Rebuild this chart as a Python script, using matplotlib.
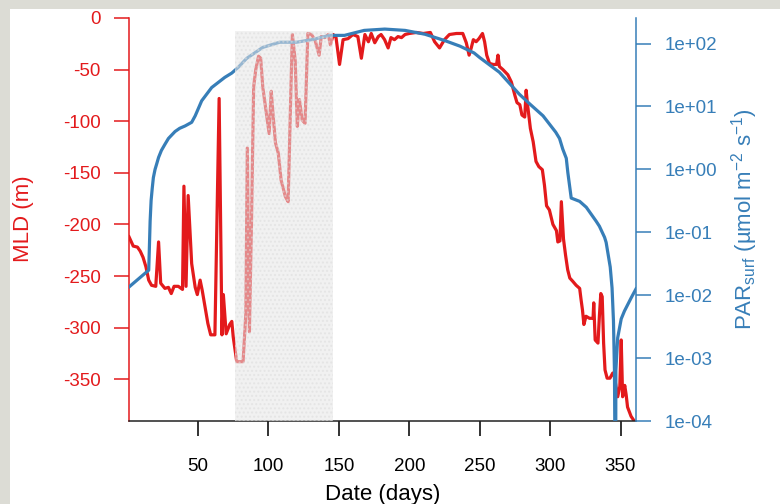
import numpy as np
import matplotlib
matplotlib.use('Agg')
import matplotlib.pyplot as plt
from matplotlib.patches import Rectangle

plt.rcParams['font.family'] = ['Liberation Sans', 'DejaVu Sans']
plt.rcParams['mathtext.fontset'] = 'custom'
plt.rcParams['mathtext.rm'] = 'Liberation Sans'
plt.rcParams['mathtext.it'] = 'Liberation Sans:italic'

RED = '#E31A1C'
BLUE = '#377EB8'

# mixed layer depth (m)
mld_day = [1, 4, 7, 9, 11, 13, 15, 17, 20, 22, 23.5, 26.5, 29, 31, 33, 36, 39, 40, 41.5, 43,
           45.5, 48, 49.5, 51.5, 53, 55, 57, 59, 62, 65, 67, 68, 70, 72.5, 74, 75, 77.5, 82, 84, 85,
           86.5, 88, 89.5, 91, 93, 94.5, 96, 98.5, 100.5, 102, 103, 105, 107, 109, 112, 114, 116, 117,
           119, 120.5, 122, 124, 126, 128, 130.5, 133, 136, 137.5, 140, 142.5, 144, 146, 148, 150.5,
           153, 156.5, 160, 163.5, 166, 168.5, 171, 173, 175.5, 178, 180, 182.5, 185, 187, 189.5, 192,
           194.5, 197, 200, 205, 210, 215, 218, 221.5, 225, 228.5, 233.5, 238, 240.5, 242.5, 244,
           245.5, 247.5, 249.5, 252, 253.5, 255, 257, 259.5, 262, 263, 264, 266.5, 270, 272.5, 275,
           276.5, 278.5, 280, 282, 283, 284, 286, 288, 290, 292, 294.5, 296, 297.5, 299.5, 302, 304.5,
           305.5, 307, 308, 309.5, 311, 312.5, 314, 316, 318.5, 321, 322, 323, 324, 325.5, 328, 330.5,
           331, 332, 334, 335, 336, 337, 338, 339, 340.5, 342.5, 344.5, 345.5, 348, 349.5, 350.5,
           351.5, 353, 354, 355, 357.5, 359.5, 360]
mld = [-212, -221, -222, -226, -232, -241, -254, -259, -260, -217, -257, -262, -261, -267, -260,
       -260, -263, -163, -260, -172, -238, -261, -268, -254, -264, -280, -296, -307, -307, -78, -307,
       -268, -306, -297, -294, -309, -333, -333, -286, -126, -304, -196, -67, -50, -37, -39, -67, -92,
       -112, -71, -89, -121, -131, -157, -173, -178, -67, -16, -41, -105, -79, -99, -102, -15, -16,
       -21, -36, -18, -19, -16, -26, -16, -19, -45, -21, -20, -16, -18, -39, -16, -23, -15, -24, -18,
       -16, -21, -29, -19, -21, -18, -19, -16, -15, -14, -15, -14, -23, -29, -21, -16, -15, -15, -24,
       -36, -29, -21, -23, -20, -15, -23, -36, -44, -45, -45, -36, -47, -50, -55, -62, -75, -82, -84,
       -94, -96, -70, -84, -107, -120, -139, -144, -147, -162, -182, -186, -200, -206, -217, -216,
       -178, -214, -230, -244, -252, -255, -259, -262, -273, -283, -297, -289, -291, -291, -276, -312,
       -315, -289, -267, -270, -315, -341, -349, -349, -344, -346, -367, -357, -312, -367, -356, -365,
       -377, -386, -390, -392]

# surface PAR (umol m-2 s-1)
par_day = [1, 15, 15.5, 16, 16.7, 17.5, 18.3, 19.5, 20.7, 22, 24, 26.5, 29, 33.7, 37, 40.8, 45.5,
           48, 52.6, 59.7, 69, 74, 78.6, 84.5, 96, 108, 120, 132, 143.6, 154, 168, 182.6, 197, 211,
           225, 236, 246, 250, 264, 278, 285.5, 295, 304, 306.7, 309, 311.5, 312.6, 315, 321, 325.7,
           332.7, 335, 338.7, 339.8, 342.7, 344, 345, 345.7, 346.5, 346.7, 348, 350.5, 352.8, 357.6,
           361]
par = [0.0135, 0.025, 0.06, 0.15, 0.32, 0.5, 0.74, 1.0, 1.23, 1.55, 2.0, 2.5, 3.1, 4.0, 4.5, 4.9,
       5.6, 7.1, 12.3, 20, 29, 34, 42, 58, 87, 105, 105, 117, 135, 135, 162, 170, 162, 141, 112, 91,
       71, 60, 35, 15.8, 11, 7.1, 3.9, 3.1, 2.1, 1.5, 0.89, 0.35, 0.31, 0.25, 0.15, 0.125, 0.083,
       0.069, 0.028, 0.013, 0.0039, 0.00063, 1e-6, 0.00063, 0.0021, 0.0042, 0.0056, 0.0091, 0.0126]

shade_start, shade_end = 76, 146

mld_ticks = [0, -50, -100, -150, -200, -250, -300, -350]
day_ticks = [50, 100, 150, 200, 250, 300, 350]
par_ticks = [1e-4, 1e-3, 1e-2, 1e-1, 1e0, 1e1, 1e2]
par_labels = ['1e-04', '1e-03', '1e-02', '1e-01', '1e+00', '1e+01', '1e+02']

fig = plt.figure(figsize=(7.8, 5.04), dpi=100, facecolor='#dcdcd5')
fig.patches.append(Rectangle((10 / 780, 0), 1, 1 - 9 / 504, transform=fig.transFigure,
                             facecolor='white', edgecolor='none', zorder=-1))

ax = fig.add_axes([129 / 780, 1 - 421 / 504, 507 / 780, 403 / 504])
ax.patch.set_visible(False)
ax.plot(mld_day, mld, color=RED, lw=2.3, solid_joinstyle='round')
ax.set_xlim(1, 361)
ax.set_ylim(-390.5, 0)
ax.set_yticks(mld_ticks)
ax.set_yticklabels([str(t) for t in mld_ticks])
ax.set_xticks(day_ticks)
ax.tick_params(axis='y', colors=RED, length=10.5, width=1.1, pad=10, labelsize=13.5, direction='out')
ax.tick_params(axis='x', colors='#222222', length=10.5, width=1.3, pad=16, labelsize=13.5,
               direction='out', labelcolor='black')
for s in ['top', 'right']:
    ax.spines[s].set_visible(False)
ax.spines['left'].set_color(RED)
ax.spines['left'].set_linewidth(1.1)
ax.spines['bottom'].set_color('#222222')
ax.spines['bottom'].set_linewidth(1.1)

ax2 = ax.twinx()
ax2.plot(par_day, par, color=BLUE, lw=2.3)
ax2.set_yscale('log')
ax2.set_ylim(1e-4, 255)
ax2.set_yticks(par_ticks)
ax2.set_yticklabels(par_labels)
ax2.yaxis.set_minor_locator(matplotlib.ticker.NullLocator())
ax2.tick_params(axis='y', colors=BLUE, length=10.5, width=1.1, pad=10, labelsize=13.5, direction='out')
for s in ['top', 'left', 'bottom']:
    ax2.spines[s].set_visible(False)
ax2.spines['right'].set_color(BLUE)
ax2.spines['right'].set_linewidth(1.1)

# shaded period drawn over both lines
ax2.axvspan(shade_start, shade_end, ymin=0, ymax=0.968, facecolor='#e6e6e6', alpha=0.55,
            edgecolor='#dddddd', linewidth=0, hatch='....', zorder=5)

fig.text(383 / 780, 1 - 500 / 504, 'Date (days)', ha='center', va='baseline', fontsize=16)
fig.text(24 / 780, 1 - 219 / 504, 'MLD (m)', ha='center', va='center', rotation=90,
         fontsize=16, color=RED)
fig.text(745 / 780, 1 - 219 / 504, 'PAR$_{\\rm surf}$ (µmol m$^{-2}$ s$^{-1}$)', ha='center',
         va='center', rotation=90, fontsize=16, color=BLUE)

fig.savefig('out.png', dpi=100, facecolor=fig.get_facecolor())
